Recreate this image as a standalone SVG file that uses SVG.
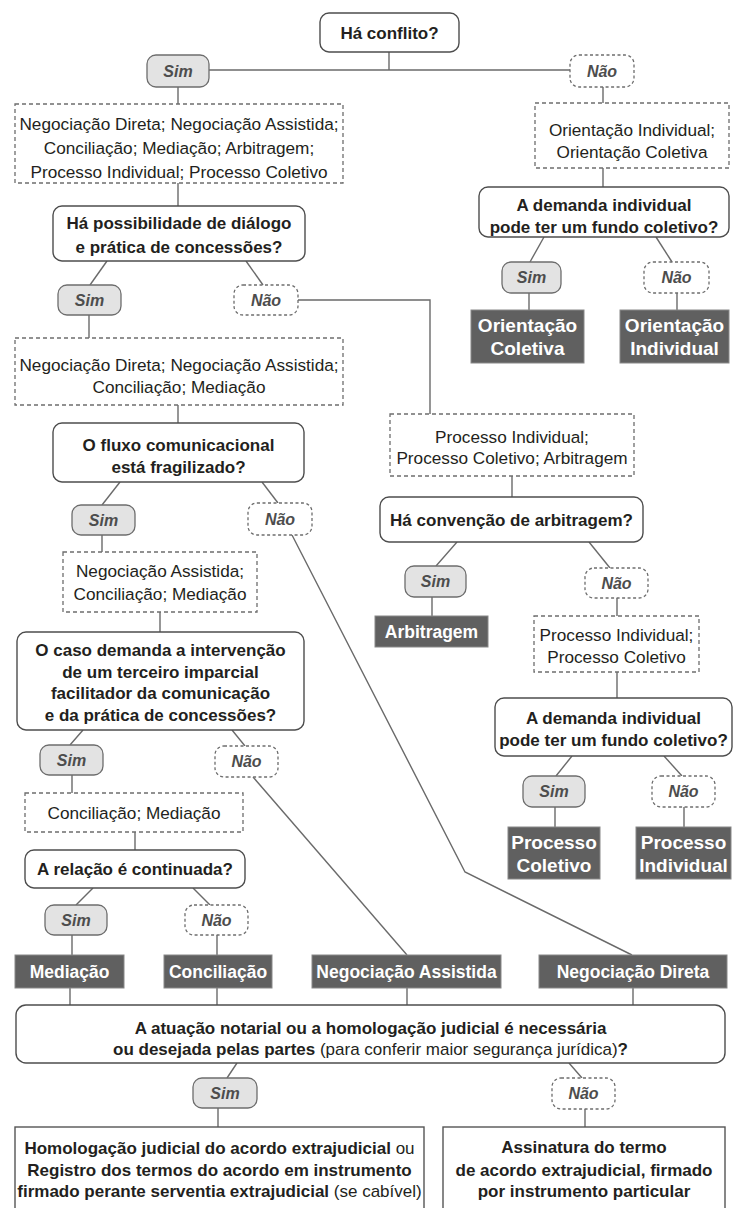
<svg xmlns="http://www.w3.org/2000/svg" width="734" height="1208" viewBox="0 0 734 1208">
<style>
.q{fill:#fff;stroke:#4d4d4d;stroke-width:1.4}
.opt{fill:#fff;stroke:#6d6d6d;stroke-width:1.3;stroke-dasharray:4 3}
.sim{fill:#e3e3e3;stroke:#6d6d6d;stroke-width:1.3}
.nao{fill:#fff;stroke:#6d6d6d;stroke-width:1.3;stroke-dasharray:3 2.5}
.res{fill:#606060;stroke:#888;stroke-width:1}
.fin{fill:#fff;stroke:#555;stroke-width:1.4}
.c path{fill:none;stroke:#6a6a6a;stroke-width:1.4}
text{font-family:"Liberation Sans",Arial,sans-serif;text-anchor:middle;fill:#231f20;font-size:17px}
.o{font-size:17.2px}
.b{font-weight:bold}
.r{font-weight:normal}
.lab{font-weight:bold;font-style:italic;font-size:16px;fill:#4d4d4d}
.rt{font-weight:bold;font-size:17.5px;fill:#fff}
.rt2{font-weight:bold;font-size:19px;fill:#fff}
</style>

<g id="connectors" class="c">
<path d="M389 52V70"/>
<path d="M209 70H570"/>
<path d="M178 87V104"/>
<path d="M603 87V103"/>
<path d="M178 183V206"/>
<path d="M107 261L90 285"/>
<path d="M246 261L263 285"/>
<path d="M89 315V338"/>
<path d="M298 300H430V414"/>
<path d="M178 405V423"/>
<path d="M120 482L102 505"/>
<path d="M262 482L278 503"/>
<path d="M102 535V552"/>
<path d="M160 612V632"/>
<path d="M83 730L70 745"/>
<path d="M232 730L245 746"/>
<path d="M72 775V793"/>
<path d="M135 832V850"/>
<path d="M93 888L76 905"/>
<path d="M193 888L210 905"/>
<path d="M72 935V955"/>
<path d="M217 935V955"/>
<path d="M70 988V1005"/>
<path d="M217 988V1005"/>
<path d="M407 988V1005"/>
<path d="M633 988V1005"/>
<path d="M237 1063L227 1078"/>
<path d="M569 1063L582 1078"/>
<path d="M218 1108V1127"/>
<path d="M585 1109V1127"/>
<path d="M292 535L465 872L632 955"/>
<path d="M253 777L407 955"/>
<path d="M603 168V187"/>
<path d="M544 237L530 262"/>
<path d="M656 237L672 262"/>
<path d="M529 293V310"/>
<path d="M677 293V310"/>
<path d="M512 476V497"/>
<path d="M457 542L436 566"/>
<path d="M589 542L610 568"/>
<path d="M432 597V616"/>
<path d="M617 598V616"/>
<path d="M617 672V698"/>
<path d="M572 756L556 776"/>
<path d="M664 756L682 776"/>
<path d="M555 807V827"/>
<path d="M684 807V827"/>
</g>

<g id="n_conflito"><rect class="q" x="320" y="13" width="139" height="39" rx="9"/><text class="b" x="389.5" y="38.5">Há conflito?</text></g>
<g id="sim_top"><rect class="sim" x="147" y="55" width="62" height="32" rx="9"/><text class="lab" x="178" y="76.5">Sim</text></g>
<g id="nao_top"><rect class="nao" x="570" y="55" width="64" height="32" rx="9"/><text class="lab" x="602" y="76.5">Não</text></g>

<g id="opt1"><rect class="opt" x="15" y="104" width="328" height="79"/>
<text class="o" x="179" y="130">Negociação Direta; Negociação Assistida;</text>
<text class="o" x="179" y="154">Conciliação; Mediação; Arbitragem;</text>
<text class="o" x="179" y="178">Processo Individual; Processo Coletivo</text></g>
<g id="q_dialogo"><rect class="q" x="53" y="206" width="252" height="55" rx="9"/>
<text class="b" x="179" y="229">Há possibilidade de diálogo</text>
<text class="b" x="179" y="253">e prática de concessões?</text></g>
<g id="sim2"><rect class="sim" x="58" y="285" width="63" height="30" rx="9"/><text class="lab" x="89.5" y="305.5">Sim</text></g>
<g id="nao2"><rect class="nao" x="234" y="285" width="64" height="30" rx="9"/><text class="lab" x="266" y="305.5">Não</text></g>

<g id="opt2"><rect class="opt" x="15" y="338" width="328" height="67"/>
<text class="o" x="179" y="371">Negociação Direta; Negociação Assistida;</text>
<text class="o" x="179" y="393">Conciliação; Mediação</text></g>
<g id="q_fluxo"><rect class="q" x="53" y="423" width="251" height="59" rx="9"/>
<text class="b" x="178.5" y="451">O fluxo comunicacional</text>
<text class="b" x="178.5" y="473">está fragilizado?</text></g>
<g id="sim3"><rect class="sim" x="72" y="505" width="63" height="30" rx="9"/><text class="lab" x="103.5" y="525.5">Sim</text></g>
<g id="nao3"><rect class="nao" x="248" y="503" width="64" height="32" rx="9"/><text class="lab" x="280" y="524.5">Não</text></g>

<g id="opt3"><rect class="opt" x="63" y="552" width="194" height="60"/>
<text class="o" x="160" y="577">Negociação Assistida;</text>
<text class="o" x="160" y="600">Conciliação; Mediação</text></g>
<g id="q_terceiro"><rect class="q" x="17" y="632" width="287" height="98" rx="9"/>
<text class="b" x="160.5" y="656">O caso demanda a intervenção</text>
<text class="b" x="160.5" y="678">de um terceiro imparcial</text>
<text class="b" x="160.5" y="699">facilitador da comunicação</text>
<text class="b" x="160.5" y="721">e da prática de concessões?</text></g>
<g id="sim4"><rect class="sim" x="40" y="745" width="63" height="30" rx="9"/><text class="lab" x="71.5" y="765.5">Sim</text></g>
<g id="nao4"><rect class="nao" x="215" y="746" width="63" height="31" rx="9"/><text class="lab" x="246.5" y="766.5">Não</text></g>

<g id="opt4"><rect class="opt" x="25" y="793" width="218" height="39"/>
<text class="o" x="134" y="819">Conciliação; Mediação</text></g>
<g id="q_relacao"><rect class="q" x="25" y="850" width="220" height="38" rx="9"/>
<text class="b" x="135" y="875">A relação é continuada?</text></g>
<g id="sim5"><rect class="sim" x="45" y="905" width="62" height="30" rx="9"/><text class="lab" x="76" y="925.5">Sim</text></g>
<g id="nao5"><rect class="nao" x="185" y="905" width="63" height="30" rx="9"/><text class="lab" x="216.5" y="925.5">Não</text></g>

<g id="r_mediacao"><rect class="res" x="15" y="955" width="109" height="33"/><text class="rt" x="69.5" y="978">Mediação</text></g>
<g id="r_conciliacao"><rect class="res" x="164" y="955" width="108" height="33"/><text class="rt" x="218" y="978">Conciliação</text></g>
<g id="r_negassistida"><rect class="res" x="312" y="955" width="189" height="33"/><text class="rt" x="406.5" y="978">Negociação Assistida</text></g>
<g id="r_negdireta"><rect class="res" x="539" y="955" width="188" height="33"/><text class="rt" x="633" y="978">Negociação Direta</text></g>

<g id="q_homologacao"><rect class="q" x="16" y="1005" width="709" height="58" rx="10"/>
<text class="b" x="370.5" y="1034">A atuação notarial ou a homologação judicial é necessária</text>
<text class="b" x="370.5" y="1055">ou desejada pelas partes<tspan class="r"> (para conferir maior segurança jurídica)</tspan>?</text></g>
<g id="sim6"><rect class="sim" x="193" y="1078" width="64" height="30" rx="9"/><text class="lab" x="225" y="1098.5">Sim</text></g>
<g id="nao6"><rect class="nao" x="552" y="1078" width="63" height="31" rx="9"/><text class="lab" x="583.5" y="1099">Não</text></g>

<g id="fin_left"><rect class="fin" x="15" y="1127" width="409" height="95"/>
<text class="b" x="219.5" y="1154">Homologação judicial do acordo extrajudicial<tspan class="r"> ou</tspan></text>
<text class="b" x="219.5" y="1176">Registro dos termos do acordo em instrumento</text>
<text class="b" x="219.5" y="1197">firmado perante serventia extrajudicial<tspan class="r"> (se cabível)</tspan></text></g>
<g id="fin_right"><rect class="fin" x="443" y="1127" width="282" height="95"/>
<text class="b" x="584" y="1153">Assinatura do termo</text>
<text class="b" x="584" y="1176">de acordo extrajudicial, firmado</text>
<text class="b" x="584" y="1197">por instrumento particular</text></g>

<g id="opt_orientacao"><rect class="opt" x="535" y="103" width="194" height="65"/>
<text class="o" x="632" y="136">Orientação Individual;</text>
<text class="o" x="632" y="158">Orientação Coletiva</text></g>
<g id="q_demanda1"><rect class="q" x="479" y="187" width="250" height="50" rx="9"/>
<text class="b" x="604" y="211">A demanda individual</text>
<text class="b" x="604" y="233">pode ter um fundo coletivo?</text></g>
<g id="sim7"><rect class="sim" x="502" y="262" width="59" height="31" rx="9"/><text class="lab" x="531.5" y="283">Sim</text></g>
<g id="nao7"><rect class="nao" x="644" y="262" width="65" height="31" rx="9"/><text class="lab" x="676.5" y="283">Não</text></g>
<g id="r_orcoletiva"><rect class="res" x="471" y="310" width="113" height="53"/>
<text class="rt2" x="527.5" y="332">Orientação</text><text class="rt2" x="527.5" y="355">Coletiva</text></g>
<g id="r_orindividual"><rect class="res" x="620" y="310" width="109" height="53"/>
<text class="rt2" x="674.5" y="332">Orientação</text><text class="rt2" x="674.5" y="355">Individual</text></g>

<g id="opt_processo1"><rect class="opt" x="390" y="414" width="244" height="62"/>
<text class="o" x="512" y="443">Processo Individual;</text>
<text class="o" x="512" y="464">Processo Coletivo; Arbitragem</text></g>
<g id="q_arbitragem"><rect class="q" x="380" y="497" width="263" height="45" rx="9"/>
<text class="b" x="511.5" y="526">Há convenção de arbitragem?</text></g>
<g id="sim8"><rect class="sim" x="405" y="566" width="61" height="31" rx="9"/><text class="lab" x="435.5" y="587">Sim</text></g>
<g id="nao8"><rect class="nao" x="585" y="568" width="63" height="30" rx="9"/><text class="lab" x="616.5" y="588.5">Não</text></g>
<g id="r_arbitragem"><rect class="res" x="375" y="616" width="113" height="31"/><text class="rt" x="431.5" y="638">Arbitragem</text></g>

<g id="opt_processo2"><rect class="opt" x="534" y="616" width="165" height="56"/>
<text class="o" x="616.5" y="641">Processo Individual;</text>
<text class="o" x="616.5" y="663">Processo Coletivo</text></g>
<g id="q_demanda2"><rect class="q" x="495" y="698" width="237" height="58" rx="9"/>
<text class="b" x="613.5" y="724">A demanda individual</text>
<text class="b" x="613.5" y="746">pode ter um fundo coletivo?</text></g>
<g id="sim9"><rect class="sim" x="523" y="776" width="62" height="31" rx="9"/><text class="lab" x="554" y="797">Sim</text></g>
<g id="nao9"><rect class="nao" x="652" y="776" width="63" height="31" rx="9"/><text class="lab" x="683.5" y="797">Não</text></g>
<g id="r_proccoletivo"><rect class="res" x="508" y="827" width="92" height="52"/>
<text class="rt2" x="554" y="849">Processo</text><text class="rt2" x="554" y="872">Coletivo</text></g>
<g id="r_procindividual"><rect class="res" x="636" y="827" width="95" height="52"/>
<text class="rt2" x="683.5" y="849">Processo</text><text class="rt2" x="683.5" y="872">Individual</text></g>
</svg>
